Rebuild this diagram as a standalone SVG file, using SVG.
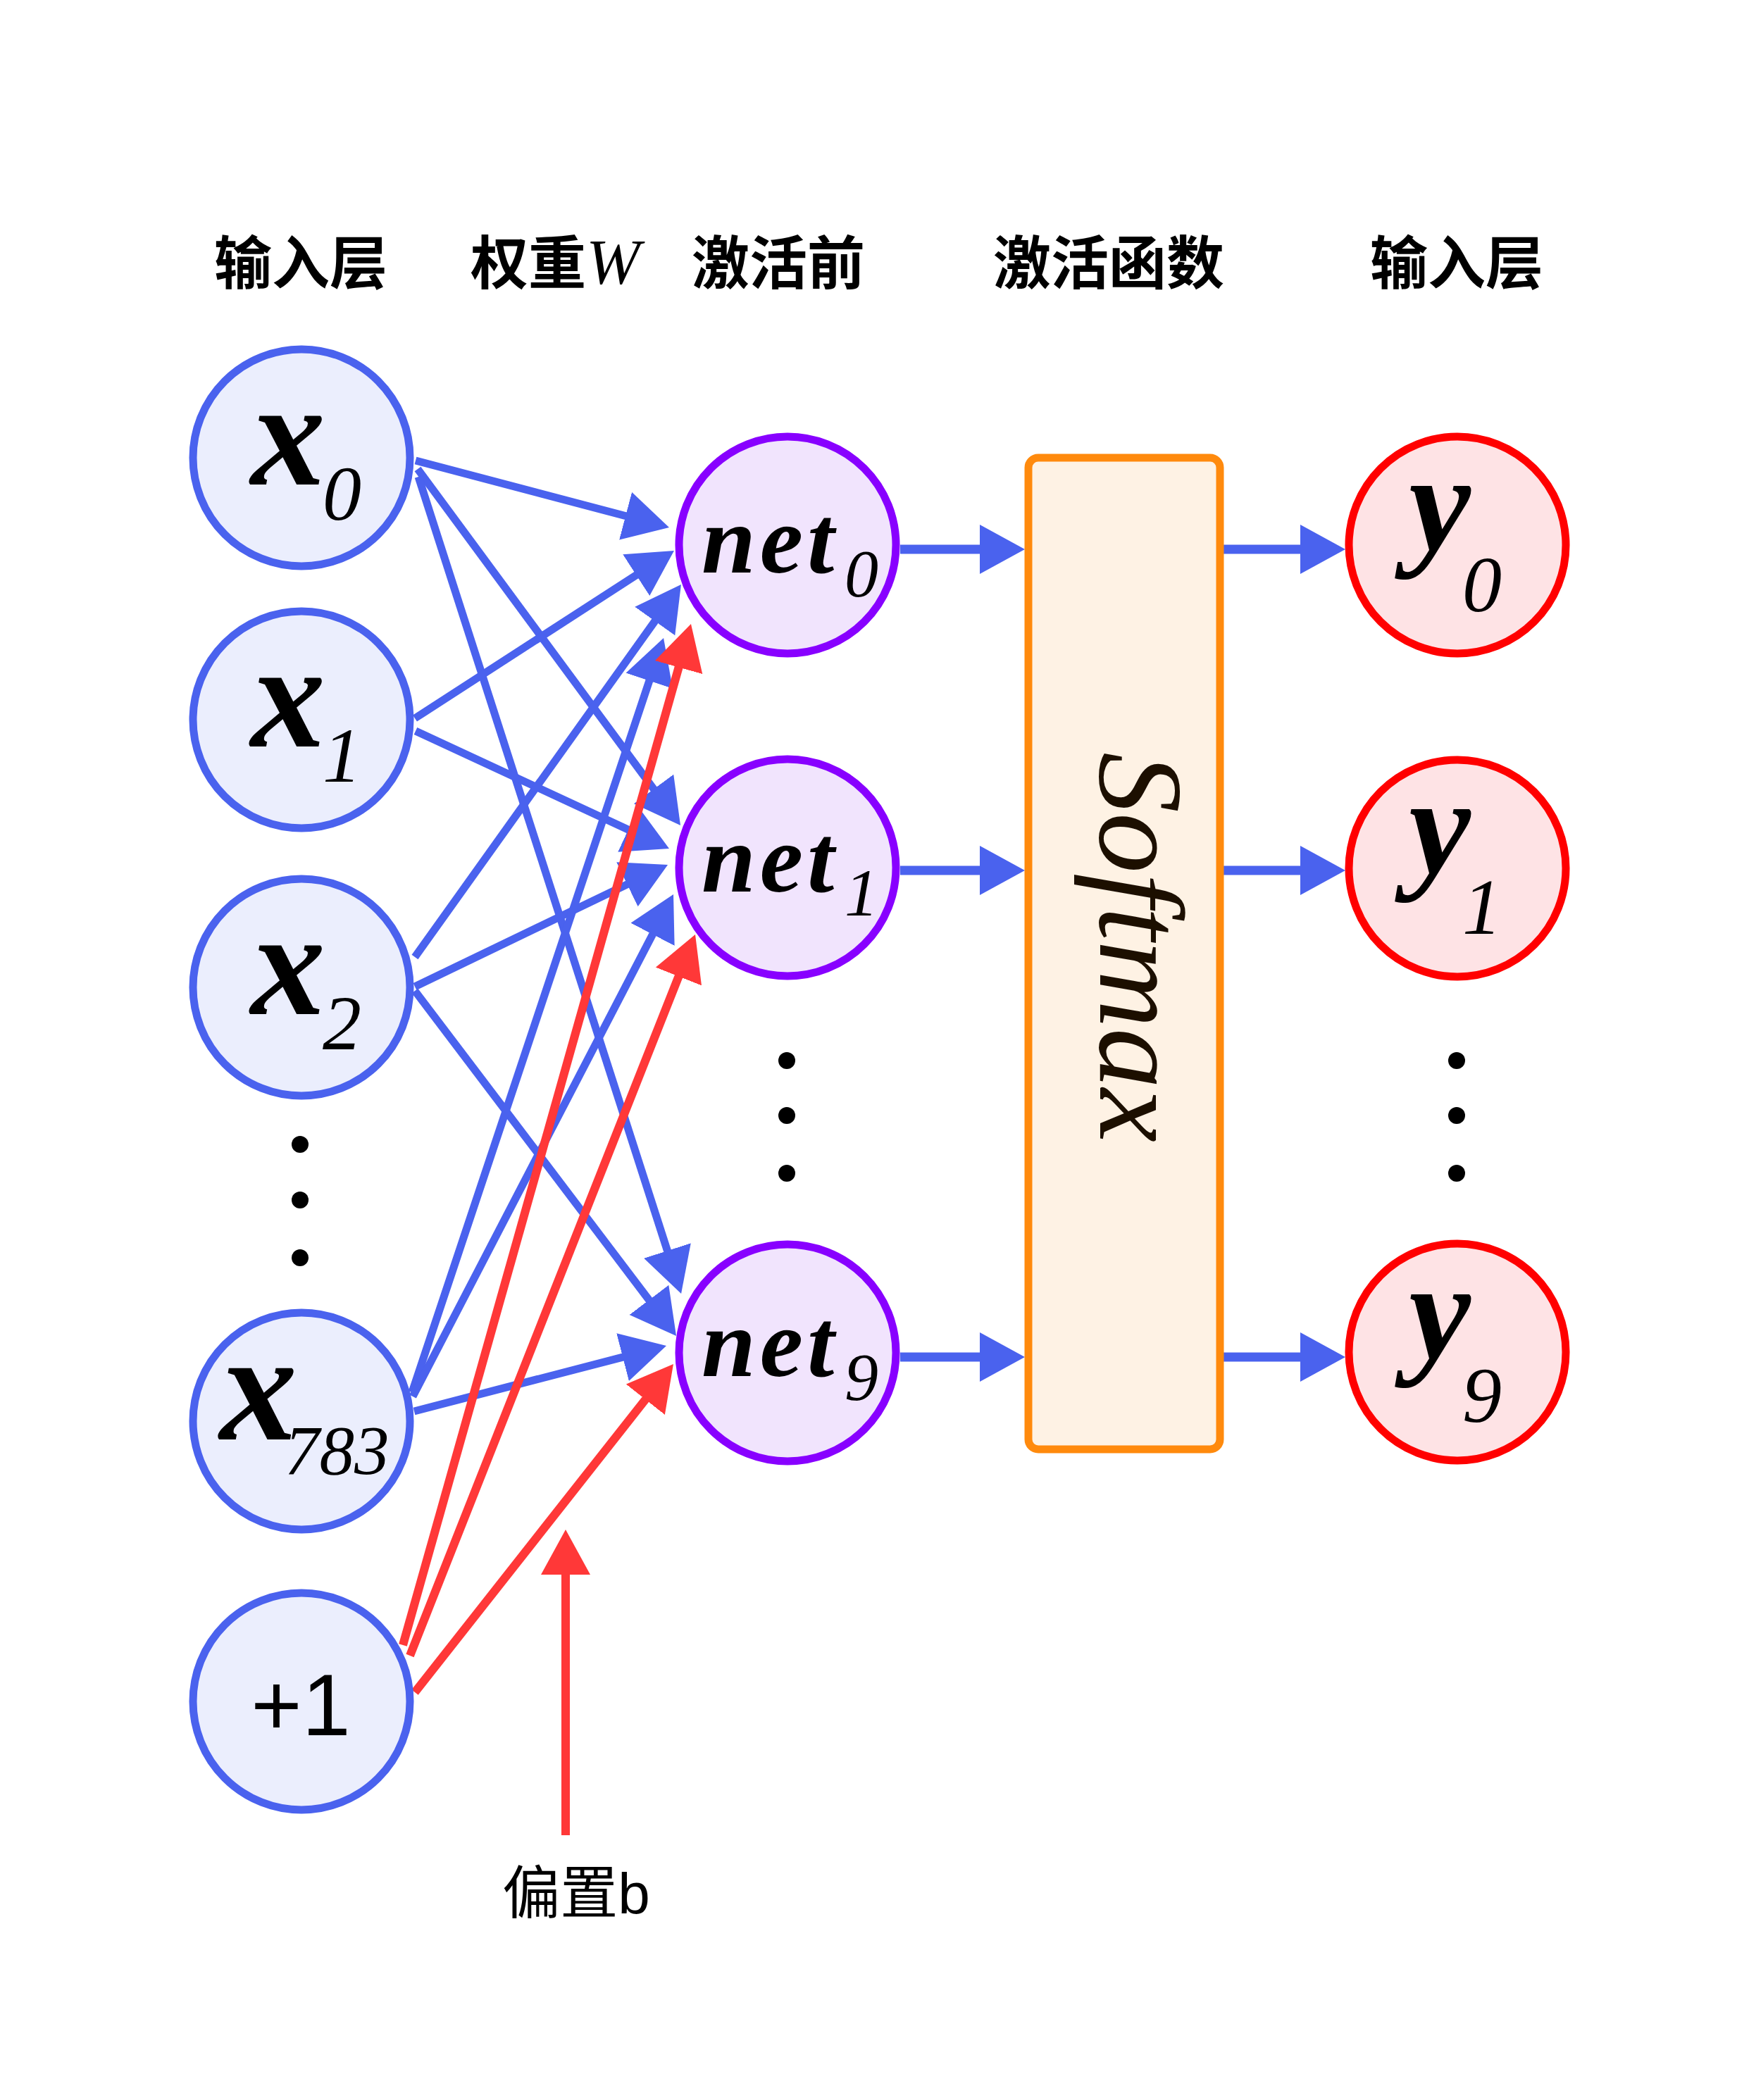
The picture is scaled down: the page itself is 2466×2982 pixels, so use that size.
<svg xmlns="http://www.w3.org/2000/svg" width="2466" height="2982" viewBox="0 0 2466 2982">
<style>
.bg{fill:#ffffff}
.in{fill:#EBEEFD;stroke:#4A62EE;stroke-width:11}
.net{fill:#F1E4FD;stroke:#8800FF;stroke-width:11}
.out{fill:#FEE3E5;stroke:#FF0000;stroke-width:11}
.box{fill:#FEF2E4;stroke:#FF8A0D;stroke-width:11}
.bl{stroke:#4A62EE;stroke-width:11;fill:none}
.bh{stroke:#4A62EE;stroke-width:13;fill:none}
.rd{stroke:#FF3838;stroke-width:12;fill:none}
.h{font-family:"Noto Sans CJK SC","Noto Sans CJK JP",sans-serif;font-size:82px;font-weight:bold;fill:#000;text-anchor:middle}
.v{font-family:"Liberation Serif","Times New Roman",serif;font-style:italic;font-weight:bold;fill:#000}
.s{font-family:"Liberation Serif","Times New Roman",serif;font-style:italic;font-weight:normal;fill:#000;letter-spacing:0}
.dot{fill:#000}
</style>
<defs>
<marker id="ab" markerUnits="userSpaceOnUse" markerWidth="70" markerHeight="72" refX="24" refY="35" orient="auto"><path d="M0,0 L64,35 L0,70 Z" fill="#4A62EE"/></marker>
<marker id="ar" markerUnits="userSpaceOnUse" markerWidth="70" markerHeight="72" refX="24" refY="35" orient="auto"><path d="M0,0 L64,35 L0,70 Z" fill="#FF3838"/></marker>
</defs>
<rect class="bg" x="0" y="0" width="2466" height="2982"/>

<g id="titles">
<text class="h" x="427" y="403">输入层</text>
<text class="h" x="668" y="403" style="text-anchor:start">权重<tspan font-family="Liberation Serif" font-style="italic" font-weight="normal" font-size="92">W</tspan></text>
<text class="h" x="1105" y="403">激活前</text>
<text class="h" x="1574" y="403">激活函数</text>
<text class="h" x="2068" y="403">输入层</text>
</g>

<g id="connectors">
<line class="bl" x1="590" y1="654" x2="911.3" y2="738.8" marker-end="url(#ab)"/>
<line class="bl" x1="593" y1="666" x2="942.3" y2="1139.8" marker-end="url(#ab)"/>
<line class="bl" x1="594" y1="677" x2="954.8" y2="1798.9" marker-end="url(#ab)"/>
<line class="bl" x1="589" y1="1020" x2="923.4" y2="803.7" marker-end="url(#ab)"/>
<line class="bl" x1="590" y1="1038" x2="913.7" y2="1188.2" marker-end="url(#ab)"/>
<line class="bl" x1="589" y1="1359" x2="943.7" y2="862.5" marker-end="url(#ab)"/>
<line class="bl" x1="589" y1="1401" x2="912" y2="1245.4" marker-end="url(#ab)"/>
<line class="bl" x1="589" y1="1407" x2="935.9" y2="1865.1" marker-end="url(#ab)"/>
<line class="bl" x1="585" y1="1977" x2="929.4" y2="944" marker-end="url(#ab)"/>
<line class="bl" x1="586" y1="1983" x2="937.6" y2="1305.5" marker-end="url(#ab)"/>
<line class="bl" x1="588" y1="2004" x2="907.3" y2="1921.1" marker-end="url(#ab)"/>
<line class="rd" x1="572" y1="2336" x2="970.1" y2="924.5" marker-end="url(#ar)"/>
<line class="rd" x1="582" y1="2351" x2="972.3" y2="1364.2" marker-end="url(#ar)"/>
<line class="rd" x1="589" y1="2403" x2="931.2" y2="1968.4" marker-end="url(#ar)"/>
<line class="rd" x1="803" y1="2606" x2="803" y2="2212" marker-end="url(#ar)"/>
<line class="bh" x1="1278" y1="780" x2="1415" y2="780" marker-end="url(#ab)"/>
<line class="bh" x1="1278" y1="1236" x2="1415" y2="1236" marker-end="url(#ab)"/>
<line class="bh" x1="1278" y1="1927" x2="1415" y2="1927" marker-end="url(#ab)"/>
<line class="bh" x1="1737" y1="780" x2="1870" y2="780" marker-end="url(#ab)"/>
<line class="bh" x1="1737" y1="1236" x2="1870" y2="1236" marker-end="url(#ab)"/>
<line class="bh" x1="1737" y1="1927" x2="1870" y2="1927" marker-end="url(#ab)"/>
</g>

<g id="x0"><circle class="in" cx="428" cy="650" r="154"/><text class="v" x="356" y="688" font-size="212">x<tspan class="s" x="458" y="738" font-size="110">0</tspan></text></g>
<g id="x1"><circle class="in" cx="428" cy="1022" r="154"/><text class="v" x="356" y="1060" font-size="212">x<tspan class="s" x="458" y="1110" font-size="110">1</tspan></text></g>
<g id="x2"><circle class="in" cx="428" cy="1402" r="154"/><text class="v" x="356" y="1440" font-size="212">x<tspan class="s" x="458" y="1490" font-size="110">2</tspan></text></g>
<g id="input-dots"><circle class="dot" cx="426" cy="1625" r="12"/><circle class="dot" cx="426" cy="1704" r="12"/><circle class="dot" cx="426" cy="1786" r="12"/></g>
<g id="x783"><circle class="in" cx="428" cy="2018" r="154"/><text class="v" x="312" y="2044" font-size="220">x<tspan class="s" x="404" y="2093" font-size="99">783</tspan></text></g>
<g id="bias"><circle class="in" cx="428" cy="2416" r="154"/><text x="427" y="2464" font-family="Liberation Sans, Arial, sans-serif" font-size="124" text-anchor="middle">+1</text></g>

<g id="net0"><circle class="net" cx="1118" cy="774" r="154"/><text class="v" x="996" y="813" font-size="138" letter-spacing="6">net<tspan class="s" x="1199" y="847" font-size="96">0</tspan></text></g>
<g id="net1"><circle class="net" cx="1118" cy="1232" r="154"/><text class="v" x="996" y="1266" font-size="138" letter-spacing="6">net<tspan class="s" x="1199" y="1300" font-size="96">1</tspan></text></g>
<g id="net-dots"><circle class="dot" cx="1117" cy="1506" r="12"/><circle class="dot" cx="1117" cy="1584" r="12"/><circle class="dot" cx="1117" cy="1666" r="12"/></g>
<g id="net9"><circle class="net" cx="1118" cy="1921" r="154"/><text class="v" x="996" y="1954" font-size="138" letter-spacing="6">net<tspan class="s" x="1199" y="1988" font-size="96">9</tspan></text></g>

<g id="softmax"><rect class="box" x="1460" y="650" width="272" height="1408" rx="14"/><text transform="translate(1562,1345) rotate(90)" text-anchor="middle" font-family="Liberation Serif, serif" font-style="italic" font-size="172" fill="#1C0F00">Softmax</text></g>

<g id="y0"><circle class="out" cx="2069" cy="774" r="154"/><text class="v" x="2000" y="780" font-size="198">y<tspan class="s" x="2076" y="868" font-size="112">0</tspan></text></g>
<g id="y1"><circle class="out" cx="2069" cy="1233" r="154"/><text class="v" x="2000" y="1239" font-size="198">y<tspan class="s" x="2076" y="1326" font-size="112">1</tspan></text></g>
<g id="output-dots"><circle class="dot" cx="2068" cy="1506" r="12"/><circle class="dot" cx="2068" cy="1584" r="12"/><circle class="dot" cx="2068" cy="1666" r="12"/></g>
<g id="y9"><circle class="out" cx="2069" cy="1920" r="154"/><text class="v" x="2000" y="1928" font-size="198">y<tspan class="s" x="2076" y="2019" font-size="112">9</tspan></text></g>

<g id="bias-label"><text x="818" y="2717" font-family="Liberation Sans, Noto Sans CJK SC, sans-serif" font-size="82" text-anchor="middle">偏置b</text></g>
</svg>
